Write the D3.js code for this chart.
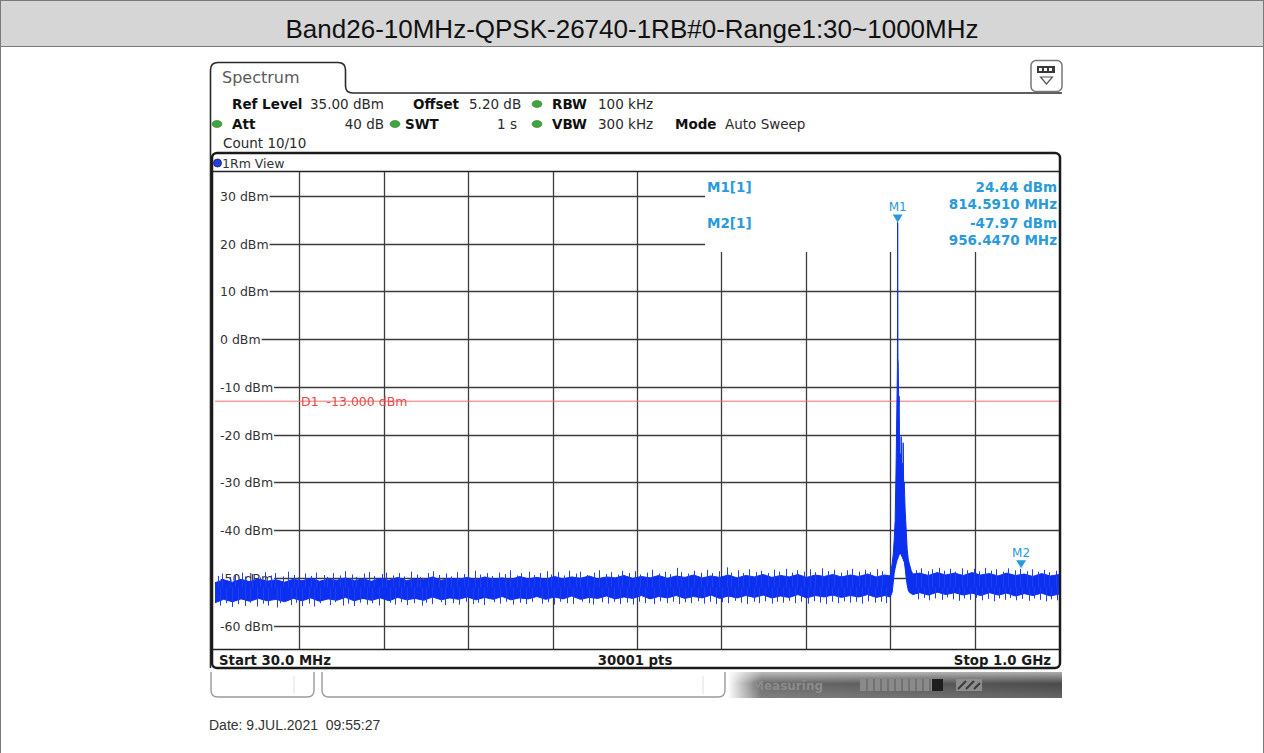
<!DOCTYPE html>
<html>
<head>
<meta charset="utf-8">
<script src="https://cdn.jsdelivr.net/npm/d3@7"></script>
<style>
  body { margin: 0; background: #fff; }
  svg { display: block; }
</style>
</head>
<body>
<svg id="chart" width="1264" height="753"></svg>
<script>
// ---- data ----
const title = 'Band26-10MHz-QPSK-26740-1RB#0-Range1:30~1000MHz';
const freqStart = 30;    // MHz
const freqStop = 1000;   // MHz
const refLevel = 35;     // dBm
const levelBottom = -65; // dBm
const levelTicks = [30, 20, 10, 0, -10, -20, -30, -40, -50, -60];
const freqGrid = [127, 224, 321, 418, 515, 612, 709, 806, 903];
const displayLine = -13;

// noise floor envelope, one sample every 10 MHz from 30 to 1000 MHz (null = carrier region)
const noiseFreq = d3.range(30, 1001, 10);
const noiseHi = [
  -51.0, -50.4, -50.9, -50.3, -50.8, -50.2, -50.7, -50.4, -50.9, -50.3,
  -50.6, -50.1, -50.7, -50.3, -50.5, -50.0, -50.6, -50.2, -50.7, -50.1,
  -50.5, -49.9, -50.6, -50.2, -50.4, -49.8, -50.5, -50.1, -50.3, -49.9,
  -50.4, -49.8, -50.3, -50.0, -50.4, -49.7, -50.2, -49.9, -50.3, -49.7,
  -50.2, -49.8, -50.1, -49.6, -50.2, -49.8, -50.0, -49.5, -50.1, -49.7,
  -50.0, -49.5, -50.1, -49.6, -49.9, -49.4, -50.0, -49.6, -49.9, -49.4,
  -50.0, -49.5, -49.8, -49.3, -49.9, -49.5, -49.8, -49.3, -49.9, -49.4,
  -49.7, -49.3, -49.8, -49.4, -49.7, -49.2, -49.8, -49.4, null, null,
  null, -49.0, -49.5, -48.9, -49.4, -49.0, -49.5, -48.9, -49.4, -49.1,
  -49.6, -49.0, -49.5, -49.2, -49.7, -49.1, -49.6, -49.3
];
const noiseLo = [
  -55.2, -54.5, -55.0, -54.4, -54.9, -54.3, -54.8, -54.5, -55.0, -54.3,
  -54.8, -54.2, -54.9, -54.4, -54.7, -54.1, -54.8, -54.3, -54.7, -54.2,
  -54.8, -54.1, -54.6, -54.3, -54.7, -54.0, -54.6, -54.2, -54.5, -54.0,
  -54.6, -54.1, -54.5, -53.9, -54.6, -54.2, -54.4, -53.9, -54.5, -54.0,
  -54.4, -53.8, -54.5, -54.1, -54.3, -53.8, -54.4, -54.0, -54.3, -53.7,
  -54.4, -53.9, -54.2, -53.7, -54.3, -53.9, -54.2, -53.6, -54.3, -53.8,
  -54.2, -53.7, -54.1, -53.6, -54.2, -53.8, -54.1, -53.5, -54.2, -53.7,
  -54.0, -53.6, -54.1, -53.7, -54.0, -53.5, -54.1, -53.7, null, null,
  null, -53.1, -53.6, -53.0, -53.5, -53.1, -53.6, -53.2, -53.7, -53.1,
  -53.6, -53.2, -53.8, -53.3, -53.7, -53.2, -53.8, -53.4
];

// carrier region (max / min of the trace)
const peakFreq = [806, 808.3, 809.5, 810.6, 811.7, 812.9, 813.6, 814.3, 814.6, 814.9, 815.2, 815.8,
  816.3, 817.0, 817.5, 818.1, 818.6, 819.2, 819.8, 820.4, 820.9, 821.5, 822.1, 823.2, 824.4, 825.5,
  826.7, 827.9, 830.2, 832];
const peakHi = [-49.6, -47, -45, -42, -38, -25, -15, -6, 24.44, -4, -5, -14,
  -12, -28, -24, -30, -20.4, -29, -26, -33, -21.7, -31, -30, -36, -40, -44,
  -46, -47, -48.5, -49.2];
const peakLo = [-54, -53, -51, -49, -48, -47, -46.5, -46, -46, -46, -45.5, -45.5,
  -45, -45, -45, -45, -45, -45.5, -45.5, -46, -46, -46.5, -46.5, -48, -50, -51.5,
  -52.5, -53, -53.3, -53.5];

// hairline noise spikes sticking out of the floor
const upSpikeFreq = [33, 38, 47, 53, 61, 65, 72, 82, 88, 94, 99, 108, 114, 121, 125, 133, 140, 146,
  155, 159, 166, 174, 179, 187, 192, 201, 207, 213, 222, 226, 234, 241, 247, 255, 262, 266, 275, 281,
  288, 296, 301, 308, 316, 321, 329, 335, 343, 348, 356, 363, 369, 377, 382, 391, 397, 403, 411, 416,
  424, 431, 437, 445, 450, 458, 466, 471, 479, 485, 493, 498, 506, 513, 519, 527, 532, 540, 547, 553,
  561, 566, 574, 580, 588, 595, 601, 609, 618, 623, 631, 637, 644, 652, 657, 665, 672, 678, 686, 693,
  699, 707, 714, 720, 728, 735, 741, 749, 756, 762, 770, 777, 783, 791, 797, 836, 841, 849, 854, 862,
  868, 875, 881, 889, 894, 902, 908, 915, 922, 928, 936, 941, 949, 955, 963, 969, 976, 983, 989, 996];
const upSpikeLevel = [-49.6, -49.1, -49.8, -49.3, -48.9, -49.7, -49.2, -49.9, -48.8, -49.5, -49.0, -49.7,
  -48.7, -49.4, -49.9, -49.1, -49.6, -48.9, -49.4, -49.8, -49.0, -49.5, -48.6, -49.3, -49.8, -49.1,
  -48.8, -49.6, -49.2, -48.9, -49.5, -49.0, -49.7, -48.7, -49.3, -49.8, -49.0, -48.6, -49.4, -49.1,
  -49.7, -48.8, -49.2, -49.6, -48.5, -49.3, -49.0, -49.6, -48.9, -49.2, -48.4, -49.5, -49.0, -48.7,
  -49.4, -49.0, -48.6, -49.3, -48.8, -49.5, -48.5, -49.1, -48.7, -49.4, -48.9, -48.4, -49.2, -48.8,
  -49.3, -48.5, -49.0, -48.6, -49.3, -48.9, -48.3, -49.1, -48.7, -49.2, -47.9, -48.8, -49.1, -48.5,
  -48.9, -48.3, -49.0, -48.6, -47.8, -48.9, -48.4, -49.0, -48.2, -48.8, -48.5, -49.0, -48.3, -48.7,
  -48.1, -48.9, -48.4, -48.7, -48.2, -48.8, -48.0, -48.6, -48.3, -48.9, -48.4, -48.1, -48.7, -48.3,
  -48.8, -48.2, -48.6, -48.4, -48.0, -48.6, -48.2, -47.9, -48.5, -48.1, -48.7, -48.0, -48.4, -48.1,
  -48.6, -47.9, -48.5, -48.2, -48.7, -48.0, -48.4, -48.1, -48.6, -48.2, -48.7, -48.3, -48.8, -48.5];
const downSpikeFreq = [36, 43, 50, 57, 64, 70, 78, 85, 91, 101, 105, 117, 123, 130, 138, 144, 151, 162,
  168, 177, 183, 190, 197, 205, 211, 219, 231, 237, 244, 251, 259, 268, 273, 279, 290, 294, 304, 311,
  318, 326, 332, 339, 351, 358, 365, 372, 380, 387, 394, 406, 413, 420, 427, 434, 441, 452, 460, 464,
  475, 482, 489, 496, 503, 510, 517, 524, 535, 542, 549, 556, 563, 570, 577, 585, 592, 599, 606, 613,
  620, 628, 635, 641, 649, 655, 662, 670, 676, 683, 690, 697, 704, 711, 718, 725, 732, 739, 746, 753,
  760, 767, 774, 781, 788, 795, 801, 838, 845, 851, 858, 865, 871, 878, 885, 891, 898, 905, 911, 918,
  925, 931, 938, 944, 951, 958, 965, 971, 978, 985, 991, 998];
const downSpikeLevel = [-55.8, -55.3, -56.1, -55.5, -55.9, -55.2, -56.0, -55.4, -55.8, -56.2, -55.3, -55.7,
  -55.2, -55.9, -55.4, -56.0, -55.3, -55.7, -55.1, -55.8, -55.4, -55.9, -55.2, -55.6, -55.3, -55.8,
  -55.2, -55.6, -55.1, -55.7, -55.3, -55.8, -55.2, -55.5, -55.1, -55.7, -55.3, -55.6, -55.0, -55.5,
  -55.2, -55.7, -55.1, -55.4, -55.0, -55.6, -55.2, -55.5, -55.0, -55.4, -55.1, -55.6, -55.0, -55.3,
  -55.5, -55.0, -55.3, -55.6, -55.1, -55.4, -55.0, -55.5, -55.2, -55.6, -55.0, -55.3, -55.5, -54.9,
  -55.3, -55.0, -55.5, -55.1, -55.3, -54.9, -55.4, -55.0, -55.5, -55.1, -55.3, -54.8, -55.2, -55.5,
  -55.0, -55.3, -54.9, -55.4, -55.0, -55.2, -54.8, -55.3, -55.0, -55.4, -54.9, -55.2, -55.5, -55.0,
  -55.3, -54.9, -55.2, -55.0, -55.4, -54.9, -55.2, -55.0, -55.3, -54.5, -54.2, -54.7, -54.3, -54.6,
  -54.1, -54.5, -54.8, -54.3, -54.6, -54.2, -54.7, -54.4, -54.9, -54.3, -54.6, -54.2, -54.7, -54.4,
  -54.8, -54.3, -54.6, -54.9, -54.5, -54.7];

const markerNames = ['M1', 'M2'];
const markerFreqs = [814.591, 956.447];
const markerLevels = [24.44, -47.97];
const markerTexts = [['24.44 dBm', '814.5910 MHz'], ['-47.97 dBm', '956.4470 MHz']];

// ---- drawing ----
const INST = "'DejaVu Sans', sans-serif";
const ARIAL = "'Liberation Sans', Arial, sans-serif";
const BLUE = '#0c30f0';
const MARK = '#2a9ad8';

const svg = d3.select('#chart');
const plot = { left: 215, right: 1059, top: 172, bottom: 649.5 };
const markerBox = { left: 705, bottom: 252 };

const x = d3.scaleLinear().domain([freqStart, freqStop]).range([plot.left, plot.right]);
const y = d3.scaleLinear().domain([levelBottom, refLevel]).range([plot.bottom, plot.top]);

const text = (g, px, py, str, opts = {}) =>
  g.append('text')
    .attr('x', px)
    .attr('y', py)
    .attr('font-family', opts.family || INST)
    .attr('font-size', opts.size || 13.5)
    .attr('font-weight', opts.bold ? 'bold' : 'normal')
    .attr('text-anchor', opts.anchor || 'start')
    .attr('fill', opts.color || '#2a2a2a')
    .style('white-space', 'pre')
    .text(str);

// page frame + title band
svg.append('rect').attr('width', 1264).attr('height', 753).attr('fill', '#fff');
svg.append('rect').attr('x', 0.5).attr('y', 0.5).attr('width', 1263).attr('height', 46)
  .attr('fill', '#d6d6d6').attr('stroke', '#7a7a7a');
svg.append('rect').attr('x', 0.5).attr('y', 0.5).attr('width', 1263).attr('height', 760)
  .attr('fill', 'none').attr('stroke', '#7a7a7a');
text(svg, 632, 38, title, { family: ARIAL, size: 26, anchor: 'middle', color: '#111' });

// window outline with Spectrum tab
svg.append('path')
  .attr('d', 'M210.5,668 L210.5,70 Q210.5,62.5 218,62.5 L338,62.5 Q345.5,62.5 345.5,70 L345.5,86 Q345.5,93 353,93 L1062,93')
  .attr('fill', 'none').attr('stroke', '#2a2a2a').attr('stroke-width', 1.6);
text(svg, 222, 83, 'Spectrum', { size: 16, color: '#5a5a5a' });

// top right icon
const icon = svg.append('g');
icon.append('rect').attr('x', 1031).attr('y', 60.5).attr('width', 31).attr('height', 31).attr('rx', 5)
  .attr('fill', '#fff').attr('stroke', '#777').attr('stroke-width', 1.5);
icon.append('rect').attr('x', 1037).attr('y', 66).attr('width', 18).attr('height', 7).attr('fill', '#3a3a3a');
[1039, 1044, 1049].forEach(ix =>
  icon.append('rect').attr('x', ix).attr('y', 68).attr('width', 3).attr('height', 3).attr('fill', '#fff'));
icon.append('path').attr('d', 'M1040.5,77 L1052.5,77 L1046.5,84 Z')
  .attr('fill', 'none').attr('stroke', '#555').attr('stroke-width', 1.2);

// setting lines
const dot = (cx, cy) =>
  svg.append('ellipse').attr('cx', cx).attr('cy', cy).attr('rx', 5).attr('ry', 3.5)
    .attr('fill', '#3fa53f').attr('stroke', '#2c7d2c').attr('stroke-width', 0.6);
text(svg, 232, 109, 'Ref Level', { bold: true, color: '#111' });
text(svg, 310, 109, '35.00 dBm');
text(svg, 413, 109, 'Offset', { bold: true, color: '#111' });
text(svg, 469, 109, '5.20 dB');
dot(537, 104);
text(svg, 552, 109, 'RBW', { bold: true, color: '#111' });
text(svg, 598, 109, '100 kHz');
dot(217, 124);
text(svg, 232, 129, 'Att', { bold: true, color: '#111' });
text(svg, 384, 129, '40 dB', { anchor: 'end' });
dot(395, 124);
text(svg, 405, 129, 'SWT', { bold: true, color: '#111' });
text(svg, 517, 129, '1 s', { anchor: 'end' });
dot(537, 124);
text(svg, 552, 129, 'VBW', { bold: true, color: '#111' });
text(svg, 598, 129, '300 kHz');
text(svg, 675, 129, 'Mode', { bold: true, color: '#111' });
text(svg, 725, 129, 'Auto Sweep');
text(svg, 223, 148, 'Count 10/10');

// diagram frame
svg.append('rect').attr('x', 212).attr('y', 153).attr('width', 848).attr('height', 515).attr('rx', 5)
  .attr('fill', '#fff').attr('stroke', '#1a1a1a').attr('stroke-width', 2.5);
svg.append('line').attr('x1', 212).attr('x2', 1060).attr('y1', 171.5).attr('y2', 171.5)
  .attr('stroke', '#222').attr('stroke-width', 1.5);
svg.append('line').attr('x1', 212).attr('x2', 1060).attr('y1', plot.bottom).attr('y2', plot.bottom)
  .attr('stroke', '#222').attr('stroke-width', 1.5);
svg.append('circle').attr('cx', 217.5).attr('cy', 163).attr('r', 4)
  .attr('fill', '#2440d8').attr('stroke', '#0c1c80').attr('stroke-width', 0.8);
text(svg, 222, 168, '1Rm View', { size: 12.5, color: '#333' });

// grid
const grid = svg.append('g').attr('stroke', '#3c3c3c').attr('stroke-width', 1.3);
freqGrid.forEach(f => {
  const gx = Math.round(x(f)) + 0.5;
  grid.append('line').attr('x1', gx).attr('x2', gx)
    .attr('y1', gx > markerBox.left ? markerBox.bottom : plot.top).attr('y2', plot.bottom);
});
const labels = svg.append('g');
levelTicks.forEach(t => {
  const gy = Math.round(y(t)) + 0.5;
  const lbl = text(labels, 220, gy + 4.5, `${t} dBm`, { size: 12.5, color: '#333' });
  const end = 220 + lbl.node().getComputedTextLength() + 1;
  grid.append('line').attr('x1', end).attr('x2', gy < markerBox.bottom ? markerBox.left : plot.right)
    .attr('y1', gy).attr('y2', gy);
});

// display line D1
svg.append('line').attr('x1', plot.left).attr('x2', plot.right)
  .attr('y1', y(displayLine)).attr('y2', y(displayLine))
  .attr('stroke', '#f07070').attr('stroke-width', 1);
text(svg, 301, y(displayLine) + 5, 'D1  -13.000 dBm', { size: 12.5, color: '#e84848' });

// trace
svg.append('clipPath').attr('id', 'plotClip').append('rect')
  .attr('x', plot.left).attr('y', plot.top).attr('width', plot.right - plot.left)
  .attr('height', plot.bottom - plot.top);
const traceG = svg.append('g').attr('clip-path', 'url(#plotClip)');

const noisePts = noiseFreq.map((f, i) => ({ f, hi: noiseHi[i], lo: noiseLo[i] }))
  .filter(d => d.hi !== null);
const peakPts = peakFreq.map((f, i) => ({ f, hi: peakHi[i], lo: peakLo[i] }));
const tracePts = noisePts.concat(peakPts).sort((a, b) => a.f - b.f);

const area = d3.area().x(d => x(d.f)).y0(d => y(d.lo)).y1(d => y(d.hi));
traceG.append('path').datum(tracePts).attr('d', area)
  .attr('fill', BLUE).attr('stroke', BLUE).attr('stroke-width', 1).attr('stroke-linejoin', 'round');

const spikes = traceG.append('g').attr('stroke', '#1f3ef2').attr('stroke-width', 1);
upSpikeFreq.forEach((f, i) => {
  const sx = Math.round(x(f)) + 0.5;
  spikes.append('line').attr('x1', sx).attr('x2', sx).attr('y1', y(-52)).attr('y2', y(upSpikeLevel[i]));
});
downSpikeFreq.forEach((f, i) => {
  const sx = Math.round(x(f)) + 0.5;
  spikes.append('line').attr('x1', sx).attr('x2', sx).attr('y1', y(-52)).attr('y2', y(downSpikeLevel[i]));
});

// markers
markerNames.forEach((name, i) => {
  const mx = x(markerFreqs[i]);
  const my = y(markerLevels[i]);
  svg.append('path').attr('d', `M${mx - 5},${my - 8} L${mx + 5},${my - 8} L${mx},${my} Z`).attr('fill', MARK);
  text(svg, mx, my - 11, name, { size: 12, anchor: 'middle', color: MARK });
  text(svg, 707, 192 + i * 36, `${name}[1]`, { bold: true, color: MARK });
  text(svg, 1057, 192 + i * 36, markerTexts[i][0], { bold: true, anchor: 'end', color: MARK });
  text(svg, 1057, 209 + i * 36, markerTexts[i][1], { bold: true, anchor: 'end', color: MARK });
});

// bottom status row of the diagram
text(svg, 219, 665, 'Start 30.0 MHz', { bold: true, size: 13.3, color: '#1a1a1a' });
text(svg, 635, 665, '30001 pts', { bold: true, size: 13.3, anchor: 'middle', color: '#1a1a1a' });
text(svg, 1051, 665, 'Stop 1.0 GHz', { bold: true, size: 13.3, anchor: 'end', color: '#1a1a1a' });

// softkey / status bar
const keyBox = (x0, x1, divider) => {
  svg.append('path')
    .attr('d', `M${x0},672 L${x0},690 Q${x0},697 ${x0 + 7},697 L${x1 - 7},697 Q${x1},697 ${x1},690 L${x1},672`)
    .attr('fill', 'none').attr('stroke', '#9a9a9a').attr('stroke-width', 1.4);
  svg.append('line').attr('x1', divider).attr('x2', divider).attr('y1', 676).attr('y2', 694)
    .attr('stroke', '#e0e0e0').attr('stroke-width', 1);
};
keyBox(211, 314, 294);
keyBox(322, 725, 703);

const defs = svg.append('defs');
const hg = defs.append('linearGradient').attr('id', 'barFade');
hg.append('stop').attr('offset', '0%').attr('stop-color', '#ffffff');
hg.append('stop').attr('offset', '10%').attr('stop-color', '#6a6a6a');
hg.append('stop').attr('offset', '100%').attr('stop-color', '#4a4a4a');
const vg = defs.append('linearGradient').attr('id', 'barShine').attr('x2', 0).attr('y2', 1);
vg.append('stop').attr('offset', '0%').attr('stop-color', '#fff').attr('stop-opacity', 0.55);
vg.append('stop').attr('offset', '45%').attr('stop-color', '#fff').attr('stop-opacity', 0);
vg.append('stop').attr('offset', '100%').attr('stop-color', '#fff').attr('stop-opacity', 0.15);
svg.append('rect').attr('x', 728).attr('y', 672).attr('width', 334).attr('height', 26).attr('fill', 'url(#barFade)');
svg.append('rect').attr('x', 728).attr('y', 672).attr('width', 334).attr('height', 26).attr('fill', 'url(#barShine)');
text(svg, 752, 690, 'Measuring', { bold: true, size: 12, color: '#8c8c8c' });
svg.append('rect').attr('x', 860).attr('y', 679).attr('width', 72).attr('height', 12).attr('fill', '#8a8a8a');
d3.range(867, 932, 7).forEach(sx =>
  svg.append('line').attr('x1', sx).attr('x2', sx).attr('y1', 679).attr('y2', 691)
    .attr('stroke', '#5a5a5a').attr('stroke-width', 1));
svg.append('rect').attr('x', 932).attr('y', 679).attr('width', 11).attr('height', 12).attr('fill', '#1e1e1e');
svg.append('rect').attr('x', 956).attr('y', 679).attr('width', 26).attr('height', 12).attr('fill', '#8e8e8e');
svg.append('path').attr('d', 'M958,689 L966,681 M966,689 L974,681 M974,689 L980,683')
  .attr('stroke', '#3a3a3a').attr('stroke-width', 2);

// date stamp
text(svg, 209, 730, 'Date: 9.JUL.2021  09:55:27', { family: ARIAL, size: 14, color: '#333' });
</script>
</body>
</html>
